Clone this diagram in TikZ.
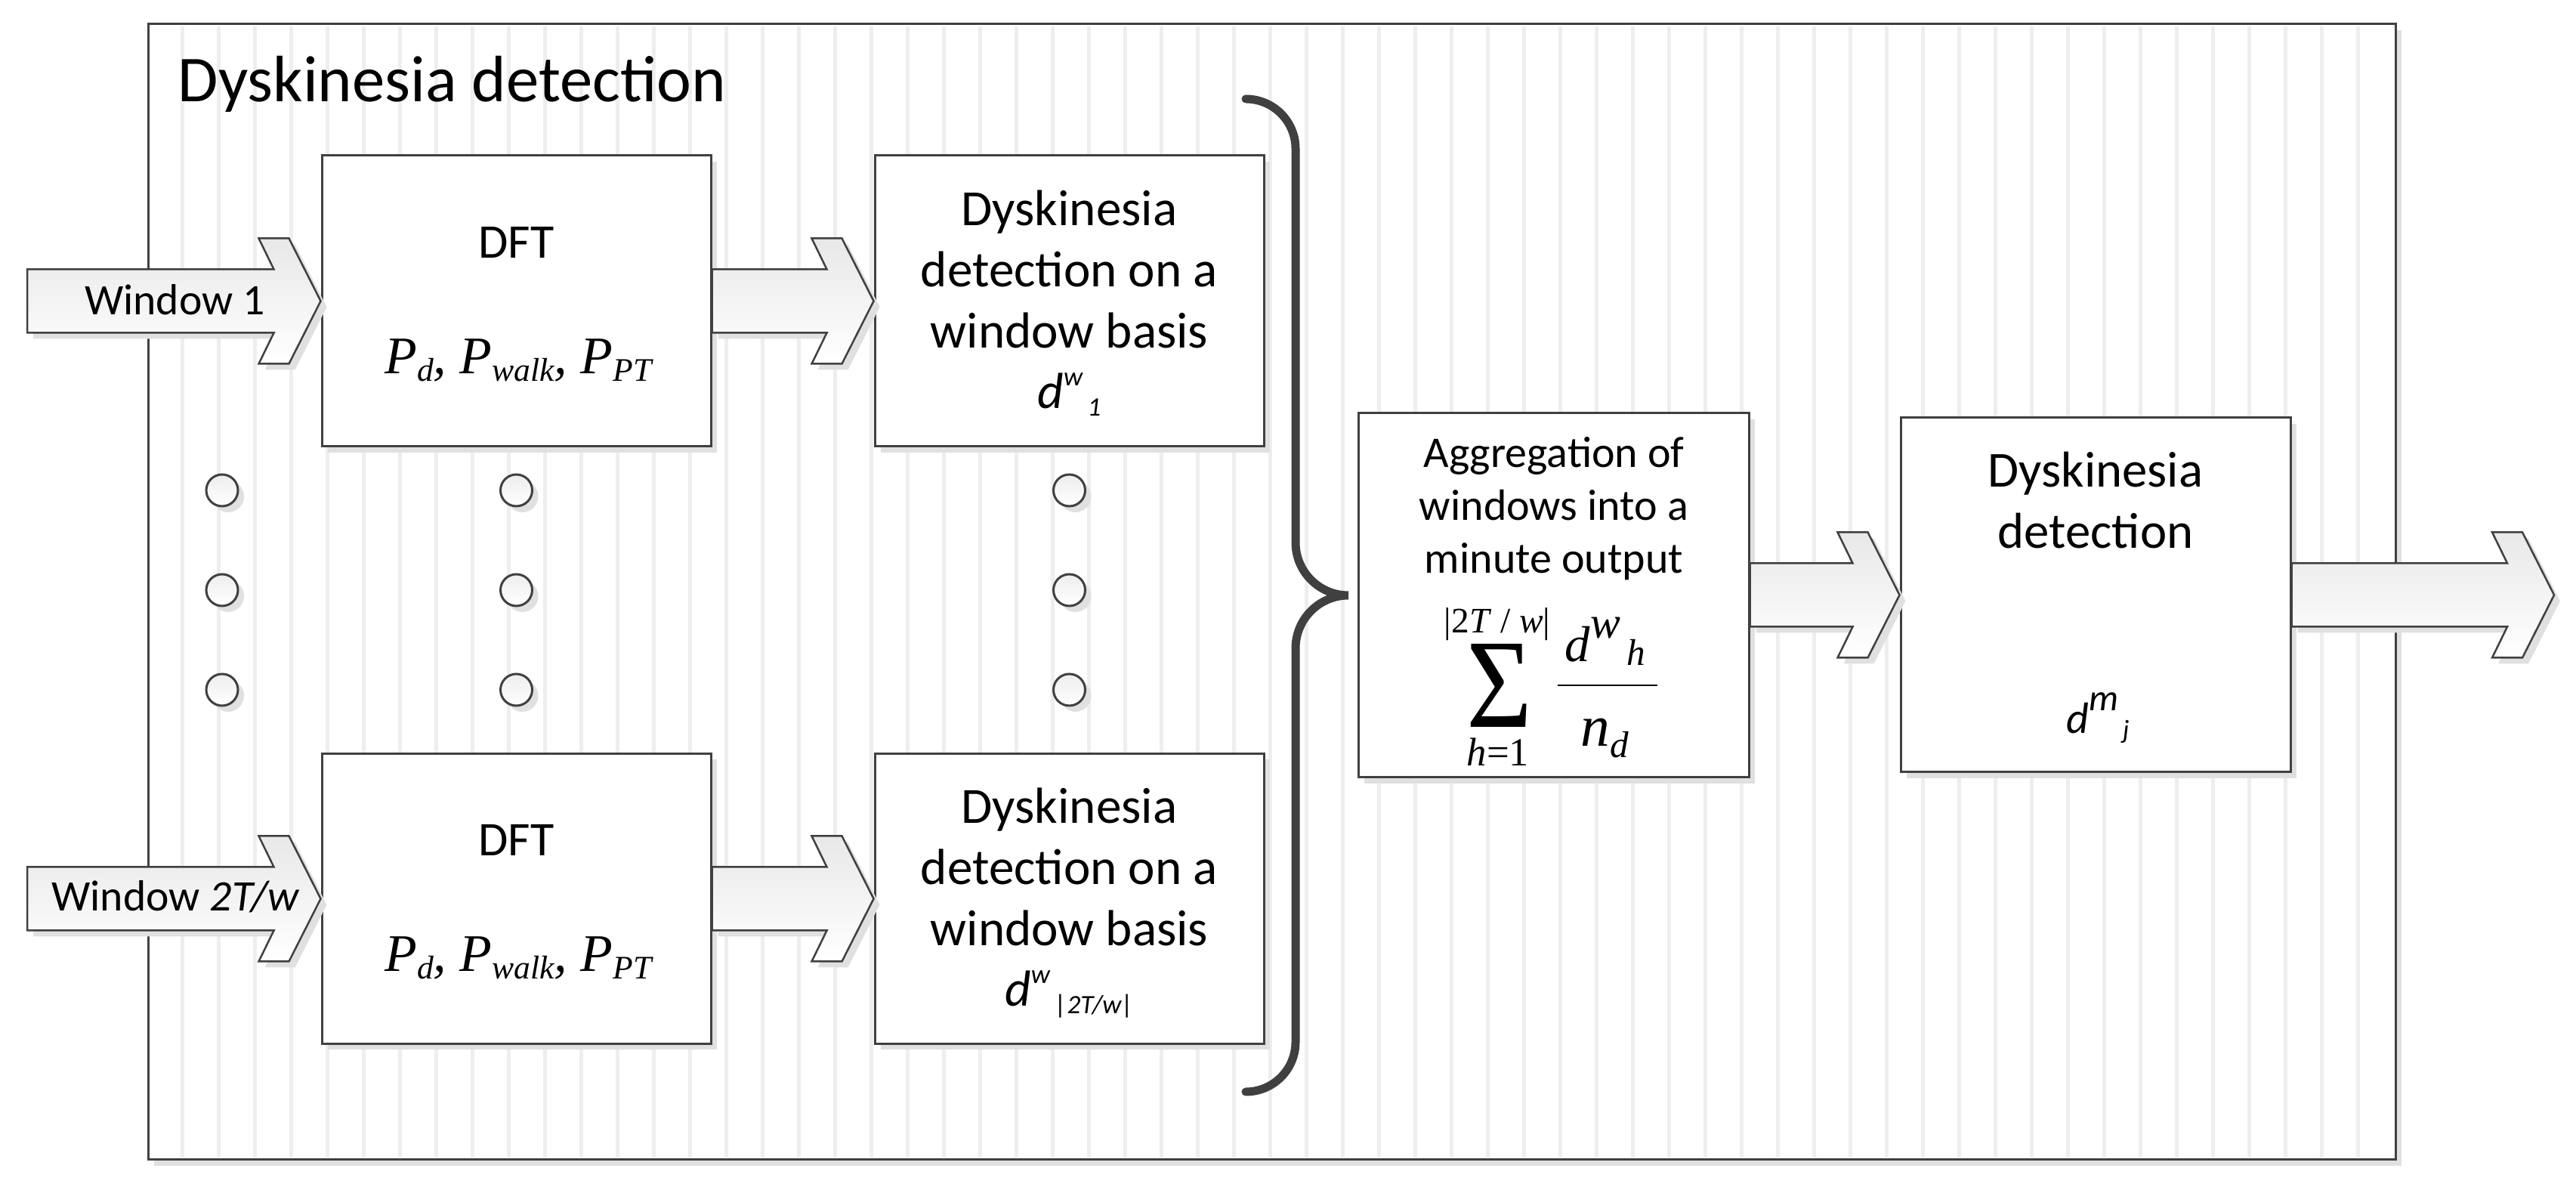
\documentclass[tikz,border=0pt]{standalone}
\usepackage{fontspec}
\setmainfont{Carlito}
\newfontfamily\tms{Liberation Serif}
\usepackage{graphicx}
\usetikzlibrary{calc}
\definecolor{edgegray}{HTML}{404040}
\definecolor{stripegray}{HTML}{EEEEEE}
\def\blockarrow(#1)(#2){\draw[arrowbody] let \p1=(#1), \p2=(#2) in (\x1,\y2+4.2mm) -- (\x2-6.2mm,\y2+4.2mm) -- (\x2-8.2mm,\y2+8.3mm) -- (\x2-4.2mm,\y2+8.3mm) -- (\x2,\y2) -- (\x2-4.2mm,\y2-8.3mm) -- (\x2-8.2mm,\y2-8.3mm) -- (\x2-6.2mm,\y2-4.2mm) -- (\x1,\y2-4.2mm) -- cycle;}
\newcommand{\sbs}[1]{\raisebox{-1mm}{\fontsize{12.4}{12}\selectfont #1}}
\newcommand{\pline}{{\tms\itshape P\sbs{d}, P\sbs{walk}, P\sbs{PT}}}
\newcommand{\dwin}[1]{\textit{d}\raisebox{3mm}{\fontsize{10}{10}\selectfont\textit{w}}\raisebox{-1mm}{\fontsize{10}{10}\selectfont\,\textit{#1}}}

\begin{document}
\begin{tikzpicture}[
	boxshadow/.style={preaction={fill=black!12,transform canvas={xshift=0.8mm,yshift=-0.8mm}}},
	procbox/.style={draw=edgegray,line width=0.03cm,fill=white,minimum width=5.15cm,inner sep=0pt,boxshadow},
	arrowbody/.style={draw=edgegray,line width=0.025cm,top color=black!9,bottom color=white,boxshadow},
	dotnode/.style={circle,draw=edgegray,line width=0.03cm,top color=black!7,bottom color=white,minimum size=0.42cm,inner sep=0pt,boxshadow},
	bracepath/.style={draw=edgegray,line width=0.11cm,line cap=round},
	lbl/.style={inner sep=0pt,align=center}]
				\useasboundingbox (0,0) rectangle (34.10,15.71);
				
				% panel with stripes
				\node[draw=edgegray,line width=0.03cm,fill=white,boxshadow,minimum width=29.75cm,minimum height=15.03cm,inner sep=0pt] (panel) at (16.835,7.875) {};
				\foreach \i in {0,...,60}
					\draw[stripegray,line width=0.05cm] ({2.41+0.48*\i},0.39) -- ({2.41+0.48*\i},15.36);
				\node[anchor=base west,inner sep=0pt,font=\fontsize{24.7}{30}\selectfont] (title) at (2.35,14.36) {Dyskinesia detection};
				
				% boxes
				\node[procbox,minimum height=3.85cm] (dft1) at (6.835,11.725) {};
				\node[procbox,minimum height=3.85cm] (det1) at (14.155,11.725) {};
				\node[procbox,minimum height=3.84cm] (dft2) at (6.835,3.815) {};
				\node[procbox,minimum height=3.84cm] (det2) at (14.155,3.815) {};
				\node[procbox,minimum width=5.17cm,minimum height=4.82cm] (agg) at (20.565,7.83) {};
				\node[procbox,minimum width=5.16cm,minimum height=4.69cm] (fin) at (27.74,7.835) {};
				
				% arrows
				\coordinate (in1) at (0.36,11.725);
				\coordinate (in2) at (0.36,3.815);
				\coordinate (out) at (33.81,7.835);
				\blockarrow(in1)(dft1.west)
				\blockarrow(in2)(dft2.west)
				\blockarrow(dft1.east)(det1.west)
				\blockarrow(dft2.east)(det2.west)
				\blockarrow(agg.east)(fin.west)
				\blockarrow(fin.east)(out)
				
				% dots
				\node[dotnode] (dotA1) at (2.94,9.22) {};
				\node[dotnode] (dotA2) at (2.94,7.90) {};
				\node[dotnode] (dotA3) at (2.94,6.58) {};
				\node[dotnode] (dotB1) at (6.835,9.22) {};
				\node[dotnode] (dotB2) at (6.835,7.90) {};
				\node[dotnode] (dotB3) at (6.835,6.58) {};
				\node[dotnode] (dotC1) at (14.155,9.22) {};
				\node[dotnode] (dotC2) at (14.155,7.90) {};
				\node[dotnode] (dotC3) at (14.155,6.58) {};
				
				% brace
				\draw[bracepath] (16.49,14.40) arc (90:0:0.66) -- (17.15,8.53) arc (180:270:0.7) arc (90:180:0.7) -- (17.15,1.92) arc (0:-90:0.66);
				
				% texts
				\node[lbl,anchor=base,font=\fontsize{16.4}{20}\selectfont] (w1txt) at (2.315,11.54) {Window 1};
				\node[lbl,anchor=base,font=\fontsize{16.4}{20}\selectfont] (w2txt) at (2.325,3.655) {Window \textit{2T/w}};
				\node[lbl,anchor=base,font=\fontsize{18.2}{22}\selectfont] (dft1txt) at (6.835,12.29) {DFT};
				\node[lbl,anchor=base,font=\fontsize{19.9}{23}\selectfont] (p1txt) at (6.86,10.76) {\pline};
				\node[lbl,anchor=base,font=\fontsize{18.2}{22}\selectfont] (dft2txt) at (6.835,4.385) {DFT};
				\node[lbl,anchor=base,font=\fontsize{19.9}{23}\selectfont] (p2txt) at (6.86,2.855) {\pline};
				\node[lbl,anchor=base,font=\fontsize{19.1}{23}\selectfont] (det1txt) at (14.155,10.30) {Dyskinesia\\detection on a\\window basis\\\dwin{1}};
				\node[lbl,anchor=base,font=\fontsize{19.1}{23}\selectfont] (det2txt) at (14.155,2.39) {Dyskinesia\\detection on a\\window basis\\\dwin{|2T/w|}};
				\node[lbl,anchor=base,font=\fontsize{16.5}{20}\selectfont] (aggtxt) at (20.57,8.12) {Aggregation of\\windows into a\\minute output};
				\node[lbl,anchor=base,font=\fontsize{19}{23}\selectfont] (fintxt) at (27.74,8.455) {Dyskinesia\\detection};
				\node[lbl,anchor=base,font=\fontsize{16.5}{20}\selectfont] (djtxt) at (27.77,6.005) {\textit{d}\raisebox{3mm}{\fontsize{14}{14}\selectfont\textit{m}}\raisebox{-0.7mm}{\fontsize{10}{10}\selectfont\,\textit{j}}};
				
				% sum formula
				\node[lbl,anchor=base,font=\tms\fontsize{13.5}{14}\selectfont] (sumtop) at (19.82,7.33) {|2\textit{T} / \textit{w}|};
				\node[lbl] (sumsign) at (19.845,6.63) {\resizebox{0.87cm}{1.10cm}{\tms Σ}};
				\node[lbl,anchor=base,font=\tms\fontsize{15}{15}\selectfont] (sumlow) at (19.83,5.57) {\textit{h}=1};
				\draw[line width=0.025cm] (20.62,6.64) -- (21.94,6.64);
				\node[lbl,anchor=base west,font=\tms\itshape\fontsize{19}{19}\selectfont] (numer) at (20.71,6.95) {d\raisebox{3.1mm}{\fontsize{17}{17}\selectfont w}\raisebox{-0.5mm}{\fontsize{14}{14}\selectfont\,h}};
				\node[lbl,anchor=base west,font=\tms\itshape\fontsize{22}{22}\selectfont] (denom) at (20.92,5.83) {n\raisebox{-1.5mm}{\fontsize{14}{14}\selectfont d}};
\end{tikzpicture}
\end{document}
